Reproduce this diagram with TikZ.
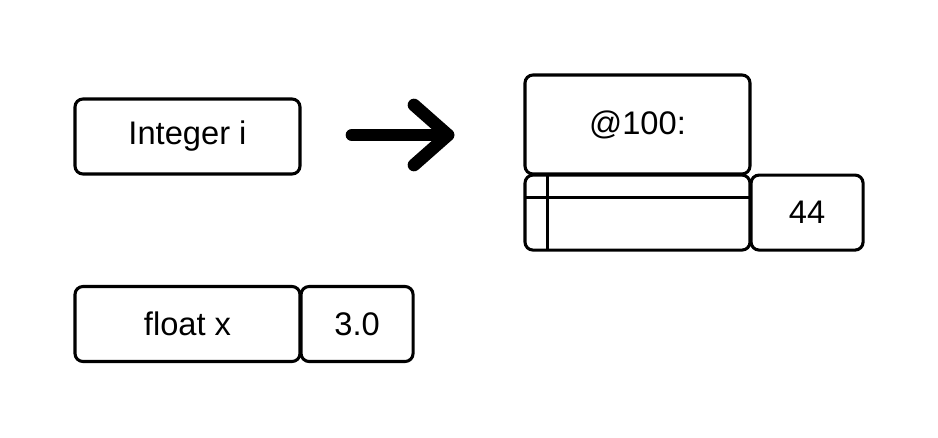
\documentclass[tikz,border=0pt]{standalone}
\usepackage{fontspec}
\setmainfont{Liberation Sans}
\usetikzlibrary{positioning}

\begin{document}
\begin{tikzpicture}[x=0.75pt, y=-0.75pt,
    cell/.style={rectangle, draw, line width=2.3pt, outer sep=0pt, rounded corners=6pt, minimum height=56.25pt, font=\fontsize{24.5}{28}\selectfont},
    wide/.style={cell, minimum width=168.75pt},
    small/.style={cell, minimum width=84pt}]
    \useasboundingbox (0,0) rectangle (938,437);

    \node[wide] (intvar) at (187.5,136.5) {Integer i};
    \node[wide] (floatvar) at (187.5,324) {float x};
    \node[small, right = 0.8pt of floatvar] (floatval) {3.0};

    \node[wide, minimum height=74.25pt] (obj) at (637.5,124.5) {@100:};
    \node[wide, below = 0.8pt of obj] (fields) {};
    \node[small, right = 0.8pt of fields] (intval) {44};
    \draw[line width=2.3pt] ([yshift=-16.5pt]fields.north west) -- ([yshift=-16.5pt]fields.north east);
    \draw[line width=2.3pt] ([xshift=17pt]fields.north west) -- ([xshift=17pt]fields.south west);

    % the big arrow
    \coordinate (tail) at (352,135);
    \coordinate (tip) at (448,135);
    \draw[line width=9.5pt, line cap=round, line join=round] (tail) -- (tip);
    \draw[line width=9.5pt, line cap=round, line join=round] (414,105) -- (tip) -- (414,165);
\end{tikzpicture}
\end{document}
